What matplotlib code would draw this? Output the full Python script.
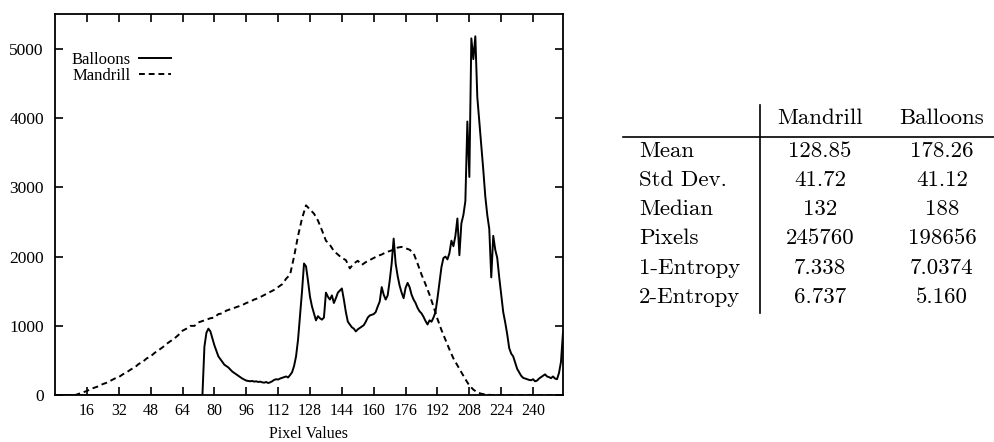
import matplotlib.pyplot as plt
from matplotlib.lines import Line2D

plt.rcParams['font.family'] = 'Liberation Serif'

# histogram of the balloons image, one count per grey level 0..255
balloons_levels = list(range(256))
balloons_counts = [
    0, 0, 0, 0, 0, 0, 0, 0, 0, 0, 0, 0, 0, 0, 0, 0,
    0, 0, 0, 0, 0, 0, 0, 0, 0, 0, 0, 0, 0, 0, 0, 0,
    0, 0, 0, 0, 0, 0, 0, 0, 0, 0, 0, 0, 0, 0, 0, 0,
    0, 0, 0, 0, 0, 0, 0, 0, 0, 0, 0, 0, 0, 0, 0, 0,
    0, 0, 0, 0, 0, 0, 0, 0, 0, 0, 0, 700, 900, 960, 920, 820,
    720, 640, 560, 520, 480, 440, 420, 400, 370, 340, 320, 300, 280, 260, 240, 225,
    210, 205, 200, 205, 195, 200, 190, 195, 185, 180, 190, 175, 185, 200, 220, 230,
    225, 240, 250, 260, 270, 255, 290, 330, 420, 560, 800, 1150, 1500, 1900, 1860, 1650,
    1420, 1280, 1180, 1080, 1140, 1110, 1090, 1120, 1480, 1420, 1380, 1440, 1330, 1400, 1480, 1510,
    1540, 1380, 1200, 1060, 1020, 980, 960, 920, 950, 970, 990, 1010, 1060, 1120, 1150, 1160,
    1170, 1200, 1280, 1350, 1560, 1450, 1380, 1440, 1650, 1900, 2260, 1900, 1720, 1580, 1480, 1400,
    1550, 1620, 1560, 1450, 1380, 1330, 1260, 1210, 1180, 1130, 1070, 1020, 1080, 1060, 1120, 1200,
    1400, 1620, 1850, 1980, 2000, 1960, 2050, 2230, 2150, 2300, 2550, 2020, 2480, 2600, 2800, 3950,
    3150, 5150, 4850, 5180, 4300, 3950, 3600, 3250, 2870, 2600, 2400, 1700, 2300, 2100, 1980, 1700,
    1450, 1200, 1050, 880, 680, 600, 560, 470, 380, 330, 280, 250, 240, 230, 220, 215,
    230, 200, 210, 240, 260, 280, 300, 270, 260, 245, 270, 240, 230, 320, 480, 900,
]

# histogram of the mandrill image, sampled every second grey level
mandrill_levels = list(range(0, 256, 2))
mandrill_counts = [
    0, 0, 0, 0, 0, 0, 20, 40, 60, 90, 110, 130, 160, 180, 210, 240,
    260, 300, 330, 370, 400, 450, 480, 530, 560, 610, 650, 690, 740, 780, 820, 870,
    930, 960, 1000, 1000, 1050, 1070, 1090, 1110, 1120, 1170, 1180, 1220, 1240, 1260, 1280, 1300,
    1330, 1350, 1380, 1400, 1430, 1460, 1490, 1520, 1560, 1600, 1680, 1740, 2000, 2300, 2550, 2740,
    2680, 2620, 2520, 2380, 2230, 2170, 2080, 2030, 1980, 1950, 1830, 1900, 1940, 1880, 1920, 1950,
    1980, 2010, 2030, 2060, 2080, 2100, 2130, 2140, 2120, 2100, 2050, 1900, 1740, 1600, 1450, 1280,
    1100, 940, 800, 660, 530, 430, 330, 230, 140, 80, 40, 20, 10, 5, 0, 0,
    0, 0, 0, 0, 0, 0, 0, 0, 0, 0, 0, 0, 0, 0, 0, 0,
]

x_ticks = [16, 32, 48, 64, 80, 96, 112, 128, 144, 160, 176, 192, 208, 224, 240]
y_ticks = [0, 1000, 2000, 3000, 4000, 5000]

# summary statistics table
stat_names = ['Mean', 'Std Dev.', 'Median', 'Pixels', '1-Entropy', '2-Entropy']
mandrill_stats = ['128.85', '41.72', '132', '245760', '7.338', '6.737']
balloons_stats = ['178.26', '41.12', '188', '198656', '7.0374', '5.160']

fig = plt.figure(figsize=(9.95, 4.42), dpi=100)
ax = fig.add_axes([0.0553, 0.106, 0.5105, 0.862])

ax.plot(balloons_levels, balloons_counts, color='black', lw=1.4,
        label='Balloons')
ax.plot(mandrill_levels, mandrill_counts, color='black', lw=1.4,
        dashes=(3, 2), label='Mandrill')

ax.set_xlim(0, 255)
ax.set_ylim(0, 5500)
ax.set_xticks(x_ticks)
ax.set_yticks(y_ticks)
ax.tick_params(direction='in', top=True, right=True, length=6, width=1.2)
ax.tick_params(axis='x', labelsize=11.5, pad=6)
ax.tick_params(axis='y', labelsize=12.5, pad=8)
for s in ax.spines.values():
    s.set_linewidth(1.3)
ax.set_xlabel('Pixel Values', fontsize=11.5, labelpad=5)

ax.legend(loc='upper left', bbox_to_anchor=(0.0, 0.945), frameon=False,
          markerfirst=False, handlelength=1.9, handletextpad=0.5,
          labelspacing=0.0, fontsize=12, borderaxespad=0.6)

# table drawn as figure text
W, H = 995.0, 442.0
tfont = dict(family='cmr10', fontsize=16.5, va='center')
fig.text(820 / W, 1 - 118 / H, 'Mandrill', ha='center', **tfont)
fig.text(942 / W, 1 - 118 / H, 'Balloons', ha='center', **tfont)
for i, name in enumerate(stat_names):
    y = 1 - (151 + 29.2 * i) / H
    fig.text(639 / W, y, name, ha='left', **tfont)
    fig.text(820 / W, y, mandrill_stats[i], ha='center', **tfont)
    fig.text(942 / W, y, balloons_stats[i], ha='center', **tfont)

fig.add_artist(Line2D([760 / W, 760 / W], [1 - 105 / H, 1 - 313 / H],
                      color='black', lw=1.2))
fig.add_artist(Line2D([623 / W, 995 / W], [1 - 137 / H, 1 - 137 / H],
                      color='black', lw=1.2))

fig.savefig('out.png', dpi=100)
